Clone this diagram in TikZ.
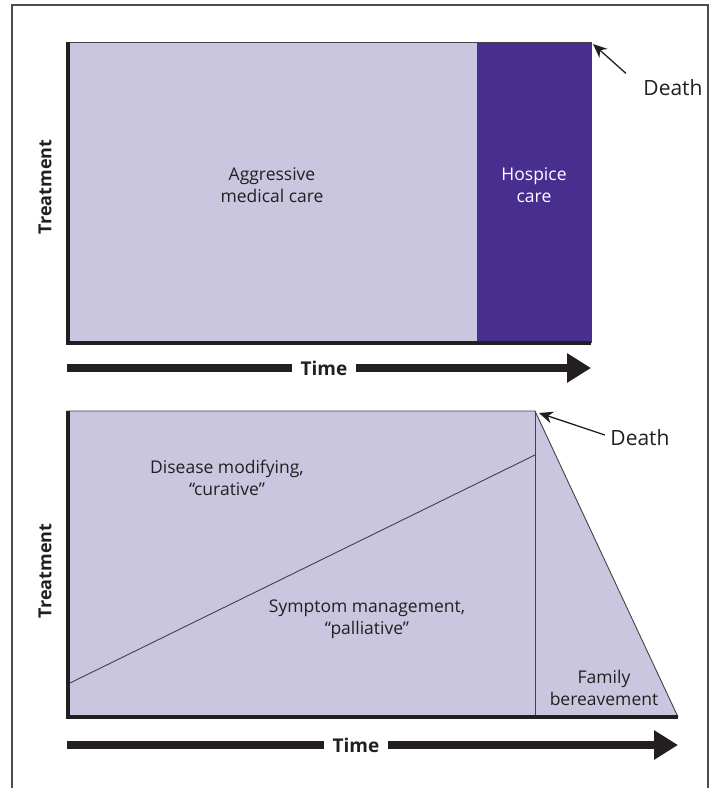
\documentclass[tikz,border=0pt]{standalone}
\usepackage{fontspec}
\setmainfont{Open Sans}
\usetikzlibrary{arrows.meta}
\definecolor{careLight}{RGB}{203,198,224}
\definecolor{careDark}{RGB}{72,46,143}
\definecolor{ink}{RGB}{35,31,32}

\begin{document}
\begin{tikzpicture}[x=1pt,y=-1pt,
    axisline/.style={line width=4pt,color=ink},
    edge/.style={line width=0.9pt,color=ink!85},
    timebar/.style={line width=8pt,color=ink},
    timelabel/.style={inner xsep=8pt,font=\bfseries\fontsize{19}{22}\selectfont,text=ink},
    caption/.style={align=center,font=\fontsize{17.5}{22}\selectfont,text=ink},
    deathlabel/.style={font=\fontsize{21}{24}\selectfont,text=ink},
    ylabel/.style={rotate=90,font=\bfseries\fontsize{18}{22}\selectfont,text=ink},
    pointer/.style={line width=1.3pt,color=ink,-{Stealth[length=14pt,width=12pt]}}]
  \useasboundingbox (0,0) rectangle (714,788);
  % outer frame, open at the bottom
  \draw[line width=1.2pt,color=ink!80] (12,788) -- (12,5) -- (708,5) -- (708,788);

  % upper chart
  \fill[careLight] (67,42) rectangle (477,343);
  \fill[careDark] (477,42) rectangle (591,343);
  \draw[edge] (67,42) -- (591,42) -- (591,343);
  \draw[edge] (477,42) -- (477,343);
  \draw[axisline] (68,42) -- (68,343) -- (591,343);
  \coordinate (end1) at (593,44);
  \node[caption] (aggr) at (272,185) {Aggressive\\medical care};
  \node[caption,text=white] (hosp) at (534,185) {Hospice\\care};
  \node[ylabel] (treat1) at (45,187) {Treatment};
  \node[deathlabel] (death1) at (673,88) {Death};
  \draw[pointer] ([shift={(-14,-3)}]death1.north west) -- (end1);

  \coordinate (ta1) at (67,368);
  \coordinate (tb1) at (591,368);
  \node[timelabel] (time1) at (324,368) {Time};
  \draw[timebar] (ta1) -- (time1);
  \draw[timebar,-{Triangle[length=24pt,width=28pt]}] (time1) -- (tb1);

  % lower chart
  \fill[careLight] (67,411) -- (535,411) -- (678,717) -- (67,717) -- cycle;
  \draw[edge] (67,411) -- (535,411) -- (678,717);
  \draw[edge] (535,411) -- (535,717);
  \draw[edge] (70,683) -- (535,455);
  \draw[axisline] (68,411) -- (68,717) -- (678,717);
  \coordinate (end2) at (539,413);
  \node[caption] (cure) at (227,478) {Disease modifying,\\``curative''};
  \node[caption] (pall) at (367,619) {Symptom management,\\``palliative''};
  \node[caption] (fam) at (604,688) {Family\\bereavement};
  \node[ylabel] (treat2) at (45,571) {Treatment};
  \node[deathlabel] (death2) at (640,438) {Death};
  \draw[pointer] ([shift={(-2,-3)}]death2.west) -- (end2);

  \coordinate (ta2) at (67,745);
  \coordinate (tb2) at (678,745);
  \node[timelabel] (time2) at (356,745) {Time};
  \draw[timebar] (ta2) -- (time2);
  \draw[timebar,-{Triangle[length=24pt,width=28pt]}] (time2) -- (tb2);
\end{tikzpicture}
\end{document}
